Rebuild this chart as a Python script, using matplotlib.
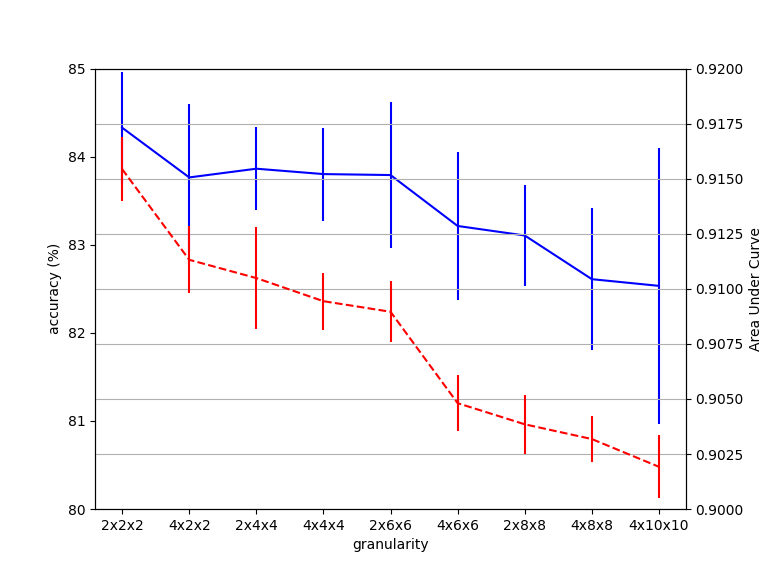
import matplotlib
matplotlib.use("Agg")
import matplotlib.pyplot as plt

categories = ["2x2x2", "4x2x2", "2x4x4", "4x4x4", "2x6x6", "4x6x6", "2x8x8", "4x8x8", "4x10x10"]
accuracy = [84.33, 83.765, 83.864, 83.803, 83.792, 83.214, 83.106, 82.610, 82.534]
accuracy_err = [0.636, 0.837, 0.472, 0.528, 0.830, 0.841, 0.572, 0.809, 1.568]
auc = [0.91544, 0.91132, 0.91049, 0.90944, 0.90896, 0.90481, 0.90385, 0.90318, 0.90192]
auc_err = [0.001455, 0.001527, 0.002318, 0.001286, 0.001395, 0.001259, 0.00135, 0.001032, 0.001432]

fig, ax1 = plt.subplots(figsize=(7.62, 5.72), dpi=100)
x = list(range(len(categories)))

ax1.errorbar(x, accuracy, yerr=accuracy_err, fmt='b-')
ax1.set_ylim(80, 85)
ax1.set_ylabel("accuracy (%)")
ax1.set_xlabel("granularity")
ax1.set_xticks(x)
ax1.set_xticklabels(categories)

ax2 = ax1.twinx()
ax2.errorbar(x, auc, yerr=auc_err, fmt='r--')
ax2.set_ylim(0.9, 0.92)
ax2.set_ylabel("Area Under Curve")
ax2.grid(True, axis='y')

fig.savefig("out.png", dpi=100)
